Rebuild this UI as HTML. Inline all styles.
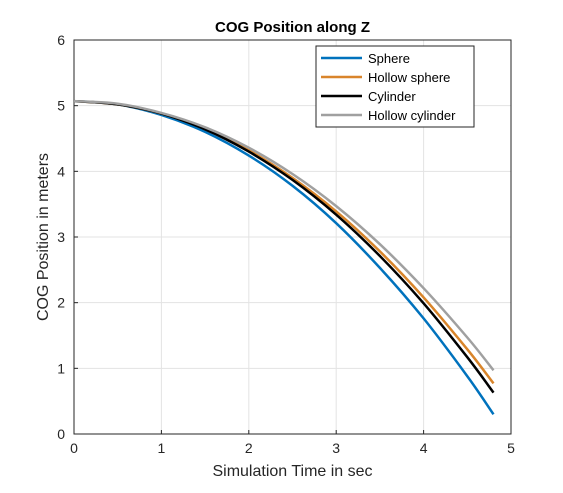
<!DOCTYPE html>
<html><head><meta charset="utf-8"><style>
body{margin:0;background:#fff;}
text{font-family:"Liberation Sans",Arial,sans-serif;}
</style></head><body>
<svg id="chart" width="563" height="488">
<rect width="563" height="488" fill="#fff"/>
<g id="grid"></g><g id="axes"></g><g id="series"></g><g id="legend"></g>
</svg>
<script>
const times=[0,0.5,1,1.5,2,2.5,3,3.5,4,4.5,4.8];
const sphere=[5.07,5.02,4.86,4.60,4.24,3.78,3.21,2.53,1.76,0.88,0.30];
const hollowSphere=[5.07,5.02,4.88,4.65,4.32,3.90,3.39,2.78,2.08,1.29,0.77];
const cylinder=[5.07,5.02,4.88,4.64,4.30,3.87,3.34,2.71,1.99,1.17,0.63];
const hollowCylinder=[5.07,5.03,4.89,4.67,4.36,3.96,3.47,2.89,2.22,1.47,0.97];
const seriesNames=["Sphere","Hollow sphere","Cylinder","Hollow cylinder"];
const xTicks=[0,1,2,3,4,5];
const yTicks=[0,1,2,3,4,5,6];
const NS="http://www.w3.org/2000/svg";
const L=74,R=511,T=40,B=434;
const xs=v=>L+(v-0)/5*(R-L);
const ys=v=>B-(v-0)/6*(B-T);
function mk(tag,attrs,parent,txt){const e=document.createElementNS(NS,tag);for(const k in attrs)e.setAttribute(k,attrs[k]);if(txt!==undefined)e.textContent=txt;parent.appendChild(e);return e;}
const grid=document.getElementById('grid'),axes=document.getElementById('axes'),ser=document.getElementById('series'),leg=document.getElementById('legend');
xTicks.forEach(t=>{
 const g=mk('line',{x1:xs(t),x2:xs(t),y1:T,y2:B,stroke:'#e3e3e3','stroke-width':1},grid);
 
 
 const tk=mk('line',{x1:xs(t),x2:xs(t),y1:B,y2:B-4,stroke:'#262626'},axes);
 
 
 const lb=mk('text',{x:xs(t),y:B+19,'text-anchor':'middle','font-size':14,fill:'#262626'},axes,t);
 
 
});
yTicks.forEach(t=>{
 const g=mk('line',{x1:L,x2:R,y1:ys(t),y2:ys(t),stroke:'#e3e3e3','stroke-width':1},grid);
 
 
 const tk=mk('line',{x1:L,x2:L+4,y1:ys(t),y2:ys(t),stroke:'#262626'},axes);
 
 
 const lb=mk('text',{x:L-9,y:ys(t)+5,'text-anchor':'end','font-size':14,fill:'#262626'},axes,t);
 
 
});
const box=mk('rect',{x:L,y:T,width:R-L,height:B-T,fill:'none',stroke:'#262626','stroke-width':1},axes);


const title=mk('text',{x:(L+R)/2,y:32,'text-anchor':'middle','font-size':15,'font-weight':'bold',fill:'#000'},axes,'COG Position along Z');


const xt=mk('text',{x:(L+R)/2,y:476,'text-anchor':'middle','font-size':16,fill:'#262626'},axes,'Simulation Time in sec');


const yt=mk('text',{x:0,y:0,'text-anchor':'middle','font-size':16,fill:'#262626',transform:'translate(48,'+((T+B)/2)+') rotate(-90)'},axes,'COG Position in meters');


const data=[sphere,hollowSphere,cylinder,hollowCylinder];
const colors=['#0072BD','#D9852B','#000000','#A0A0A0'];
const keys=['sphere','hollow-sphere','cylinder','hollow-cylinder'];
function smoothPath(pts){
 let d='M'+pts[0][0].toFixed(1)+','+pts[0][1].toFixed(1);
 for(let i=0;i<pts.length-1;i++){
  const p0=pts[Math.max(0,i-1)],p1=pts[i],p2=pts[i+1],p3=pts[Math.min(pts.length-1,i+2)];
  const c1x=p1[0]+(p2[0]-p0[0])/6,c1y=p1[1]+(p2[1]-p0[1])/6;
  const c2x=p2[0]-(p3[0]-p1[0])/6,c2y=p2[1]-(p3[1]-p1[1])/6;
  d+=' C'+c1x.toFixed(1)+','+c1y.toFixed(1)+' '+c2x.toFixed(1)+','+c2y.toFixed(1)+' '+p2[0].toFixed(1)+','+p2[1].toFixed(1);
 }
 return d;
}
data.forEach((arr,i)=>{
 const pts=arr.map((v,j)=>[xs(times[j]),ys(v)]);
 const p=mk('path',{d:smoothPath(pts),fill:'none',stroke:colors[i],'stroke-width':2.5,'stroke-linejoin':'round'},ser);
 
 
});
const lb=mk('rect',{x:316,y:46,width:158,height:81,fill:'#fff',stroke:'#262626','stroke-width':1},leg);


seriesNames.forEach((n,i)=>{
 const y=58+i*19;
 const l=mk('line',{x1:321,x2:362,y1:y,y2:y,stroke:colors[i],'stroke-width':2.5},leg);
 
 
 const t=mk('text',{x:368,y:y+5,'font-size':13,fill:'#000'},leg,n);
 
 
});
</script>
</body></html>
